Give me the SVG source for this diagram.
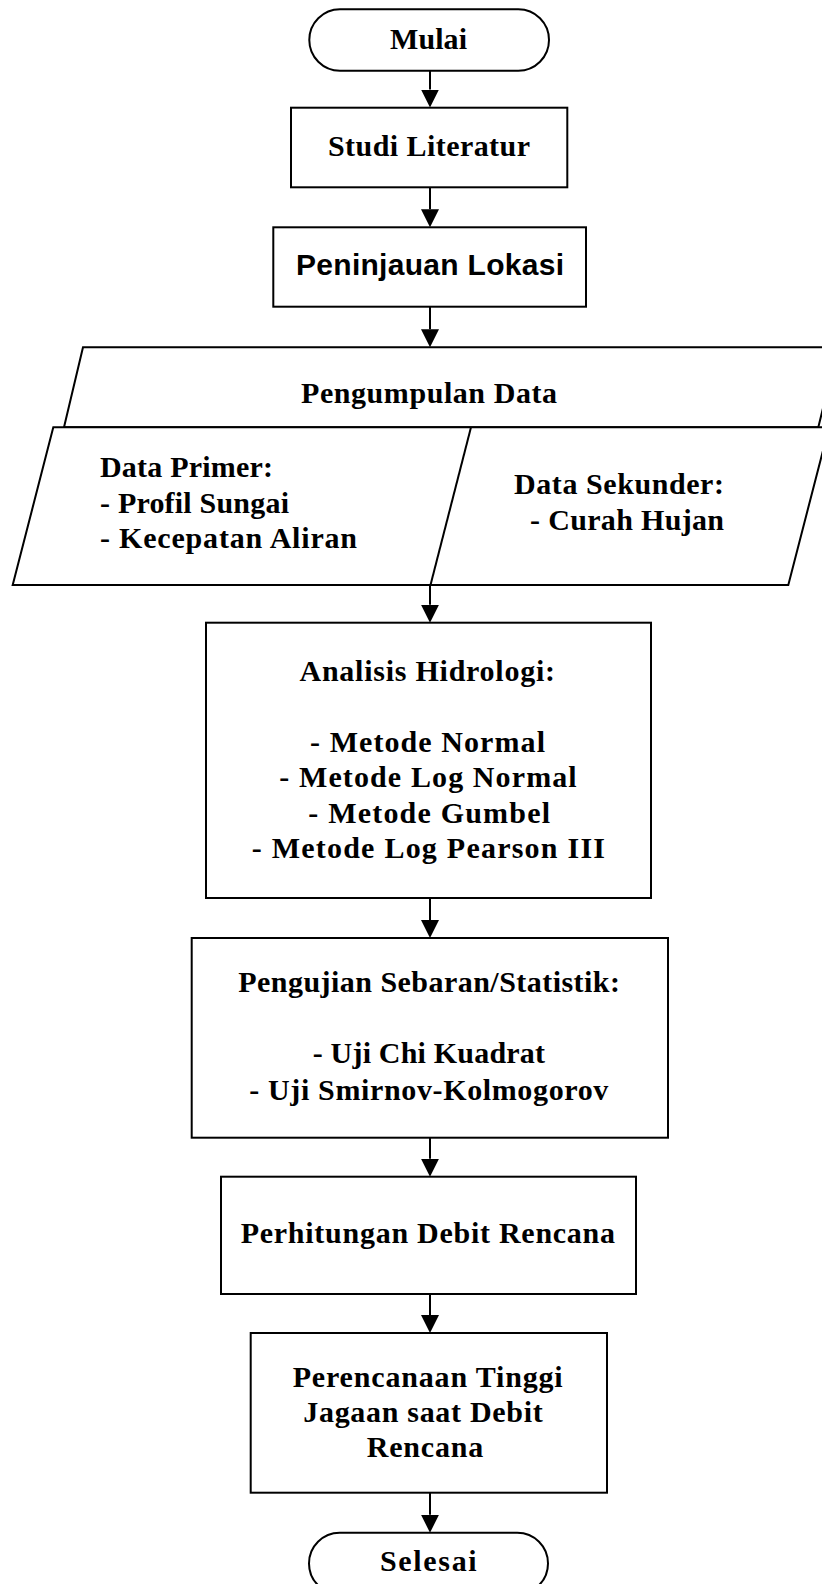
<svg xmlns="http://www.w3.org/2000/svg" width="822" height="1584" viewBox="0 0 822 1584">
<style>
.s{fill:#fff;stroke:#000;stroke-width:2}
.t{font-family:"Liberation Serif","Times New Roman",serif;font-weight:bold;font-size:30px;fill:#000}
.a{font-family:"Liberation Sans",Arial,sans-serif;font-weight:bold;font-size:30px;fill:#000}
.c{stroke:#000;stroke-width:2;fill:none}
</style>
<defs>
<marker id="ah" markerUnits="userSpaceOnUse" markerWidth="18" markerHeight="18" refX="0" refY="9" orient="auto" viewBox="0 0 18 18">
<path d="M0,0 L18,9 L0,18 Z" fill="#000"/>
</marker>
</defs>
<g id="connectors">
<line class="c" x1="430" y1="70.7" x2="430" y2="89.5" marker-end="url(#ah)"/>
<line class="c" x1="430" y1="187.3" x2="430" y2="209.3" marker-end="url(#ah)"/>
<line class="c" x1="430" y1="306.7" x2="430" y2="329.3" marker-end="url(#ah)"/>
<line class="c" x1="430" y1="585" x2="430" y2="604.7" marker-end="url(#ah)"/>
<line class="c" x1="430" y1="898" x2="430" y2="920" marker-end="url(#ah)"/>
<line class="c" x1="430" y1="1137.7" x2="430" y2="1158.7" marker-end="url(#ah)"/>
<line class="c" x1="430" y1="1294" x2="430" y2="1315" marker-end="url(#ah)"/>
<line class="c" x1="430" y1="1492.7" x2="430" y2="1514.7" marker-end="url(#ah)"/>
</g>
<g id="mulai">
<rect class="s" x="309.3" y="9.3" width="239.7" height="61.4" rx="30.7" ry="30.7"/>
<text class="t" x="390" y="48.5" textLength="77">Mulai</text>
</g>
<g id="studi">
<rect class="s" x="291" y="107.7" width="276.3" height="79.6"/>
<text class="t" x="328" y="156" textLength="202">Studi Literatur</text>
</g>
<g id="peninjauan">
<rect class="s" x="273.3" y="227.3" width="312.7" height="79.4"/>
<text class="a" x="296" y="275" textLength="268">Peninjauan Lokasi</text>
</g>
<g id="pengumpulan">
<polygon class="s" points="83,347.3 838,347.3 818.3,427.3 64,427.3"/>
<text class="t" x="301" y="402.7" textLength="256">Pengumpulan Data</text>
</g>
<g id="data">
<polygon class="s" points="53.3,427.3 829,427.3 788.3,585 12.7,585"/>
<line class="c" x1="471" y1="427.3" x2="430.5" y2="585"/>
<text class="t" x="100" y="476.7" textLength="173">Data Primer:</text>
<text class="t" x="100" y="512.5" textLength="189">- Profil Sungai</text>
<text class="t" x="100" y="548.3" textLength="257">- Kecepatan Aliran</text>
<text class="t" x="514" y="494" textLength="210">Data Sekunder:</text>
<text class="t" x="530" y="530" textLength="194">- Curah Hujan</text>
</g>
<g id="analisis">
<rect class="s" x="206" y="622.7" width="445" height="275.3"/>
<text class="t" x="299.5" y="680.7" textLength="255.5">Analisis Hidrologi:</text>
<text class="t" x="310" y="751.7" textLength="235">- Metode Normal</text>
<text class="t" x="279.3" y="786.7" textLength="297.4">- Metode Log Normal</text>
<text class="t" x="308.3" y="822.7" textLength="241.7">- Metode Gumbel</text>
<text class="t" x="251.7" y="858.3" textLength="353.3">- Metode Log Pearson III</text>
</g>
<g id="pengujian">
<rect class="s" x="191.7" y="938" width="476.3" height="199.7"/>
<text class="t" x="238.3" y="991.7" textLength="381.7">Pengujian Sebaran/Statistik:</text>
<text class="t" x="312.7" y="1063.3" textLength="232.3">- Uji Chi Kuadrat</text>
<text class="t" x="249.3" y="1100" textLength="359">- Uji Smirnov-Kolmogorov</text>
</g>
<g id="perhitungan">
<rect class="s" x="221" y="1176.7" width="415" height="117.3"/>
<text class="t" x="240.7" y="1243.3" textLength="374.3">Perhitungan Debit Rencana</text>
</g>
<g id="perencanaan">
<rect class="s" x="250.7" y="1333" width="356.3" height="159.7"/>
<text class="t" x="292.7" y="1386.7" textLength="270">Perencanaan Tinggi</text>
<text class="t" x="303.3" y="1421.7" textLength="239.4">Jagaan saat Debit</text>
<text class="t" x="366.7" y="1456.7" textLength="116.6">Rencana</text>
</g>
<g id="selesai">
<rect class="s" x="309" y="1532.7" width="239" height="61.4" rx="30.7" ry="30.7"/>
<text class="t" x="380" y="1571" textLength="96.7">Selesai</text>
</g>
</svg>
